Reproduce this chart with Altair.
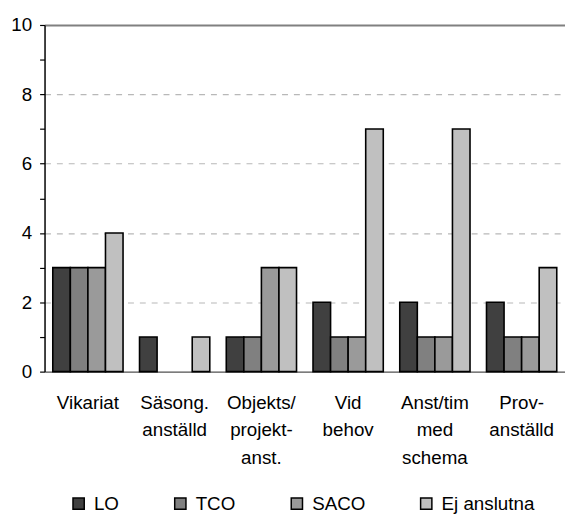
import altair as alt
import pandas as pd

categories = ["Vikariat", "Säsong.|anställd", "Objekts/|projekt-|anst.", "Vid|behov", "Anst/tim|med|schema", "Prov-|anställd"]
series = ["LO", "TCO", "SACO", "Ej anslutna"]
colors = ["#404040", "#808080", "#9a9a9a", "#c0c0c0"]
lo = [3, 1, 1, 2, 2, 2]
tco = [3, 0, 1, 1, 1, 1]
saco = [3, 0, 3, 1, 1, 1]
ej = [4, 1, 3, 7, 7, 3]
y_ticks = list(range(0, 11))

rows = []
for s, vals in zip(series, [lo, tco, saco, ej]):
    for c, v in zip(categories, vals):
        rows.append({"kategori": c, "grupp": s, "antal": v})
df = pd.DataFrame(rows)

font = "Liberation Sans"
fs = 19

chart = alt.Chart(df).transform_filter("datum.antal > 0").mark_bar(stroke="black", strokeWidth=1.6).encode(
    x=alt.X("kategori:N", sort=categories, title=None,
            scale=alt.Scale(domain=categories, paddingInner=0.19, paddingOuter=0.095),
            axis=alt.Axis(labelExpr="split(datum.label, '|')", labelAngle=0,
                          ticks=False, labelPadding=22, labelLineHeight=28,
                          labelFontSize=fs, labelFont=font, labelColor="black",
                          domainColor="#505050", domainWidth=1.5)),
    xOffset=alt.XOffset("grupp:N", sort=series,
                        scale=alt.Scale(domain=series, paddingInner=0, paddingOuter=0)),
    y=alt.Y("antal:Q", title=None,
            scale=alt.Scale(domain=[0, 10], nice=False),
            axis=alt.Axis(values=y_ticks,
                          labelExpr="datum.value % 2 == 0 ? datum.label : ''",
                          tickSize=5, tickColor="black", tickWidth=1.2,
                          labelPadding=8, labelFontSize=fs, labelFont=font, labelColor="black",
                          domainColor="black", domainWidth=1.5,
                          grid=True,
                          gridColor={"condition": {"test": "datum.value == 10", "value": "#808080"}, "value": "#b8b8b8"},
                          gridDash={"condition": {"test": "datum.value == 10", "value": []}, "value": [6, 6]},
                          gridWidth={"condition": {"test": "datum.value == 10", "value": 2}, "value": 1.2},
                          gridOpacity={"condition": {"test": "datum.value % 2 == 1 || datum.value == 0", "value": 0}, "value": 1})),
    color=alt.Color("grupp:N", sort=series, title=None,
                    scale=alt.Scale(domain=series, range=colors),
                    legend=alt.Legend(orient="none", legendX=25, legendY=475,
                                      direction="horizontal", symbolType="square",
                                      symbolSize=130, symbolStrokeColor="black",
                                      symbolStrokeWidth=1.5, labelFontSize=fs,
                                      labelFont=font, labelColor="black",
                                      labelOffset=6, columnPadding=52)),
).properties(
    width=527, height=351,
    autosize=alt.AutoSizeParams(type="none"),
    padding={"left": 37, "top": 14, "right": 0, "bottom": 144},
).configure_view(stroke=None)

chart.save("out.html", embed_options={"renderer": "svg", "actions": False})
